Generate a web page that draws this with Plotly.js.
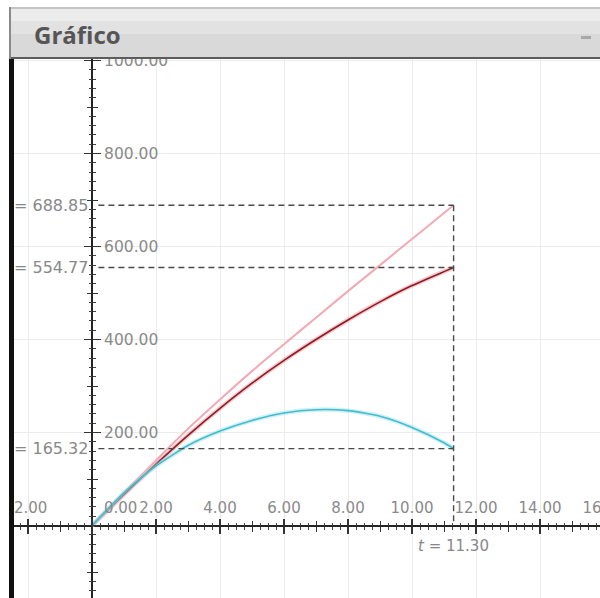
<!DOCTYPE html>
<html><head><meta charset="utf-8">
<script src="https://cdn.plot.ly/plotly-3.0.1.min.js"></script>
<style>html,body{margin:0;padding:0;overflow:hidden;background:#fff;width:600px;height:598px}#g{width:630px;height:598px}</style>
</head><body><div id="g"></div><script>
// ---- data ----
const t      = [0, 1, 2, 3, 4, 5, 6, 7, 8, 9, 10, 11, 11.3];
const sPink  = [0, 71, 140, 208, 271, 332, 390, 447, 504, 560, 616, 672, 688.85];
const xRed   = [0, 67, 132, 194, 252, 306, 355, 400, 442, 481, 516, 546, 554.77];
const yCyan  = [0, 70, 128, 172, 203, 226, 242, 249, 247, 235, 211, 178, 165.32];
const xTicks = [-2, 0, 2, 4, 6, 8, 10, 12, 14, 16];
const yTicks = [200, 400, 600, 800, 1000];
const windowTitle = 'Gráfico';
const timeName = 't';

// ---- geometry ----
const W = 630, H = 598, L = 14, T = 59;
const pw = W - L, ph = H - T;
const X0 = 92, XS = 32, Y0 = 525.5, YS = 0.465;
const xr = [(L - X0) / XS, (W - X0) / XS];
const yr = [(Y0 - H) / YS, (Y0 - T) / YS];
const posX = (H - Y0) / ph;
const posY = (X0 - L) / pw;
const px = v => (v - L) / pw;
const py = v => (H - v) / ph;

const lblFont = {family: 'DejaVu Sans', size: 15, color: '#8a8a8a'};
const tickC = '#333';

function ax(extra) {
  return Object.assign({anchor: 'free', showgrid: false, zeroline: false, showline: false,
    fixedrange: true, ticks: 'outside', tickcolor: tickC, showticklabels: false}, extra);
}
const minX = {tickmode: 'linear', tick0: 0, dtick: 0.25, ticks: 'outside', ticklen: 3, tickwidth: 1, tickcolor: '#444', showgrid: false};
const minY = {tickmode: 'linear', tick0: 0, dtick: 20, ticks: 'outside', ticklen: 3, tickwidth: 1, tickcolor: '#444', showgrid: false};

const xText = xTicks.map(v => v === 0 ? '\u00a0'.repeat(12) + v.toFixed(2) : v.toFixed(2));

const layout = {
  width: W, height: H,
  margin: {l: L, r: 0, t: T, b: 0, pad: 0},
  paper_bgcolor: '#ffffff', plot_bgcolor: '#ffffff',
  showlegend: false,
  xaxis: ax({range: xr, position: posX, side: 'top', tickmode: 'array', tickvals: xTicks, ticktext: xText,
    showticklabels: true, tickangle: 0, tickfont: lblFont, ticklen: 7, tickwidth: 1.5,
    showgrid: true, gridcolor: '#ececec', gridwidth: 1,
    zeroline: true, zerolinecolor: '#222', zerolinewidth: 2, minor: minX}),
  xaxis2: ax({range: xr, position: posX, overlaying: 'x', side: 'bottom', tickmode: 'array', tickvals: xTicks,
    ticklen: 7, tickwidth: 1.5, minor: minX}),
  xaxis3: ax({range: xr, position: posX, overlaying: 'x', side: 'top', tickmode: 'linear', tick0: 0, dtick: 1, ticklen: 5, tickwidth: 1}),
  xaxis4: ax({range: xr, position: posX, overlaying: 'x', side: 'bottom', tickmode: 'linear', tick0: 0, dtick: 1, ticklen: 5, tickwidth: 1}),
  yaxis: ax({range: yr, position: posY, side: 'right', tickmode: 'array', tickvals: yTicks,
    ticktext: yTicks.map(v => v.toFixed(2)), showticklabels: true, tickfont: Object.assign({}, lblFont, {size: 15.5}),
    ticklen: 8, tickwidth: 1.5, showgrid: true, gridcolor: '#ececec', gridwidth: 1,
    zeroline: true, zerolinecolor: '#222', zerolinewidth: 2, minor: minY}),
  yaxis2: ax({range: yr, position: posY, overlaying: 'y', side: 'left', tickmode: 'array', tickvals: yTicks,
    ticklen: 8, tickwidth: 1.5, minor: minY}),
  yaxis3: ax({range: yr, position: posY, overlaying: 'y', side: 'right', tickmode: 'linear', tick0: 0, dtick: 100, ticklen: 5, tickwidth: 1}),
  yaxis4: ax({range: yr, position: posY, overlaying: 'y', side: 'left', tickmode: 'linear', tick0: 0, dtick: 100, ticklen: 5, tickwidth: 1}),
  shapes: [],
  annotations: []
};

// window chrome (title bar + left border)
function rectPx(x0, y0, x1, y1, color) {
  layout.shapes.push({type: 'rect', xref: 'paper', yref: 'paper', layer: 'above',
    x0: px(x0), x1: px(x1), y0: py(y1), y1: py(y0), fillcolor: color, line: {width: 0}});
}
rectPx(9, 7, W, 9, '#c4c4c4');
rectPx(9, 9, W, 21, '#ececec');
rectPx(9, 21, W, 34, '#e2e2e2');
rectPx(9, 34, W, 57, '#d9d9d9');
rectPx(9, 57, W, 59, '#5c5c5c');
rectPx(9, 7, 11, 59, '#8a8a8a');
rectPx(9, 59, 14, H, '#111111');
rectPx(581, 36, 591, 39, '#a8a8a8');

layout.annotations.push({xref: 'paper', yref: 'paper', x: px(32), y: py(35), xanchor: 'left', yanchor: 'middle',
  text: '<b>' + windowTitle + '</b>', showarrow: false, font: {family: 'Open Sans', size: 24, color: '#555555'}});

const tEnd = t[t.length - 1];
const finals = [sPink[sPink.length - 1], xRed[xRed.length - 1], yCyan[yCyan.length - 1]];
finals.forEach(v => {
  layout.annotations.push({xref: 'x', yref: 'y', x: 0, y: v, xanchor: 'right', yanchor: 'middle', xshift: -2,
    text: '= ' + v.toFixed(2), showarrow: false, font: {family: 'DejaVu Sans', size: 16, color: '#888'}});
});
layout.annotations.push({xref: 'x', yref: 'y', x: tEnd, y: 0, xanchor: 'center', yanchor: 'middle', yshift: -20,
  text: '<i>' + timeName + '</i> = ' + tEnd.toFixed(2), showarrow: false, font: {family: 'DejaVu Sans', size: 15, color: '#888'}});

// ---- traces ----
const dash = {color: '#4a4a4a', width: 1.4, dash: '6px,4px'};
const traces = [];
finals.forEach(v => traces.push({x: [0.2, tEnd], y: [v, v], mode: 'lines', line: dash, xaxis: 'x4', yaxis: 'y4', hoverinfo: 'skip'}));
traces.push({x: [tEnd, tEnd], y: [Math.max(...finals), 0], mode: 'lines', line: dash, xaxis: 'x4', yaxis: 'y4', hoverinfo: 'skip'});

traces.push({x: t, y: xRed, mode: 'lines', line: {color: 'rgba(235,140,150,0.45)', width: 4.5, shape: 'spline', smoothing: 0.6}, xaxis: 'x', yaxis: 'y'});
traces.push({x: t, y: xRed, mode: 'lines', line: {color: '#8a1d22', width: 1.6, shape: 'spline', smoothing: 0.6}, xaxis: 'x', yaxis: 'y'});
traces.push({x: t, y: sPink, mode: 'lines', line: {color: '#f2aab4', width: 2, shape: 'spline', smoothing: 0.6}, xaxis: 'x2', yaxis: 'y2'});
traces.push({x: t, y: yCyan, mode: 'lines', line: {color: 'rgba(150,225,235,0.45)', width: 4.5, shape: 'spline', smoothing: 0.6}, xaxis: 'x3', yaxis: 'y3'});
traces.push({x: t, y: yCyan, mode: 'lines', line: {color: '#43bccd', width: 1.6, shape: 'spline', smoothing: 0.6}, xaxis: 'x3', yaxis: 'y3'});

Plotly.newPlot('g', traces, layout, {staticPlot: true, displayModeBar: false});
</script></body></html>
